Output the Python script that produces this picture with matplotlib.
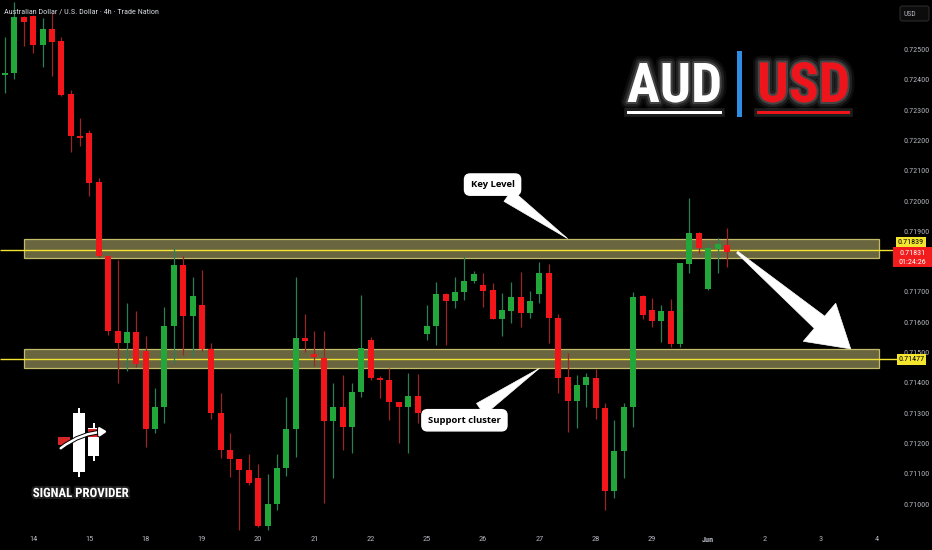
import matplotlib
matplotlib.use("Agg")
import matplotlib.pyplot as plt
import matplotlib.patheffects as pe
from matplotlib.patches import Rectangle, FancyBboxPatch, Polygon, FancyArrowPatch
from matplotlib.transforms import IdentityTransform
import numpy as np

# ---------------- data ----------------
opens = [0.72416, 0.72422, 0.72607, 0.72611, 0.72515, 0.72568, 0.72528, 0.72353, 0.72214, 0.72224,
         0.72063, 0.71818, 0.71571, 0.71531, 0.71568, 0.71505, 0.71248, 0.71320, 0.71587, 0.71789,
         0.71620, 0.71657, 0.71512, 0.71300, 0.71178, 0.71149, 0.71112, 0.71086, 0.70927, 0.71000,
         0.71119, 0.71248, 0.71548, 0.71495, 0.71482, 0.71274, 0.71320, 0.71254, 0.71370, 0.71541,
         0.71416, 0.71409, 0.71337, 0.71320, 0.71356, 0.71561, 0.71587, 0.71693, 0.71670, 0.71700,
         0.71736, 0.71723, 0.71706, 0.71611, 0.71637, 0.71683, 0.71630, 0.71693, 0.71762, 0.71614,
         0.71419, 0.71340, 0.71393, 0.71416, 0.71317, 0.71043, 0.71175, 0.71320, 0.71686, 0.71640,
         0.71604, 0.71637, 0.71528, 0.71792, 0.71894, 0.71710, 0.71842, 0.71855]
highs = [0.72541, 0.72657, 0.72611, 0.72614, 0.72604, 0.72620, 0.72541, 0.72366, 0.72274, 0.72234,
         0.72076, 0.71818, 0.71805, 0.71663, 0.71637, 0.71554, 0.71383, 0.71650, 0.71845, 0.71818,
         0.71749, 0.71772, 0.71531, 0.71366, 0.71234, 0.71149, 0.71165, 0.71132, 0.71099, 0.71165,
         0.71353, 0.71749, 0.71627, 0.71571, 0.71571, 0.71399, 0.71426, 0.71399, 0.71690, 0.71551,
         0.71422, 0.71449, 0.71337, 0.71432, 0.71429, 0.71657, 0.71733, 0.71696, 0.71749, 0.71815,
         0.71769, 0.71762, 0.71729, 0.71696, 0.71733, 0.71766, 0.71703, 0.71799, 0.71792, 0.71627,
         0.71498, 0.71426, 0.71432, 0.71446, 0.71333, 0.71277, 0.71333, 0.71700, 0.71690, 0.71680,
         0.71657, 0.71677, 0.71795, 0.72010, 0.71898, 0.71861, 0.71878, 0.71911]
lows = [0.72356, 0.72403, 0.72512, 0.72488, 0.72442, 0.72413, 0.72346, 0.72162, 0.72181, 0.72016,
        0.71815, 0.71558, 0.71399, 0.71439, 0.71452, 0.71188, 0.71234, 0.71267, 0.71465, 0.71492,
        0.71485, 0.71505, 0.71281, 0.71152, 0.71089, 0.70914, 0.71063, 0.70925, 0.70914, 0.70980,
        0.71092, 0.71155, 0.71502, 0.71455, 0.71003, 0.71086, 0.71178, 0.71168, 0.71353, 0.71409,
        0.71350, 0.71277, 0.71201, 0.71168, 0.71267, 0.71541, 0.71525, 0.71525, 0.71647, 0.71673,
        0.71729, 0.71650, 0.71611, 0.71554, 0.71597, 0.71584, 0.71614, 0.71663, 0.71531, 0.71366,
        0.71238, 0.71251, 0.71320, 0.71281, 0.70980, 0.71020, 0.71086, 0.71254, 0.71611, 0.71584,
        0.71535, 0.71518, 0.71518, 0.71762, 0.71828, 0.71705, 0.71762, 0.71782]
closes = [0.72422, 0.72607, 0.72591, 0.72515, 0.72568, 0.72525, 0.72350, 0.72214, 0.72208, 0.72059,
          0.71818, 0.71571, 0.71531, 0.71568, 0.71462, 0.71248, 0.71320, 0.71587, 0.71789, 0.71621,
          0.71686, 0.71512, 0.71300, 0.71178, 0.71149, 0.71112, 0.71069, 0.70927, 0.71000, 0.71119,
          0.71248, 0.71548, 0.71538, 0.71485, 0.71274, 0.71320, 0.71254, 0.71370, 0.71515, 0.71416,
          0.71409, 0.71337, 0.71320, 0.71356, 0.71300, 0.71587, 0.71693, 0.71670, 0.71700, 0.71736,
          0.71759, 0.71703, 0.71611, 0.71640, 0.71683, 0.71630, 0.71670, 0.71762, 0.71614, 0.71416,
          0.71340, 0.71393, 0.71419, 0.71317, 0.71043, 0.71175, 0.71320, 0.71683, 0.71624, 0.71604,
          0.71637, 0.71528, 0.71795, 0.71894, 0.71845, 0.71845, 0.71858, 0.71831]

day_labels = ['14', '15', '18', '19', '20', '21', '22', '25', '26', '27', '28', '29', 'Jun', '2', '3', '4']
first_day_index = 3          # candle index where the first labelled day starts
candles_per_day = 6          # 4h candles

price_ticks = [0.71000, 0.71100, 0.71200, 0.71300, 0.71400, 0.71500, 0.71600, 0.71700,
               0.71800, 0.71900, 0.72000, 0.72100, 0.72200, 0.72300, 0.72400, 0.72500]
hidden_ticks = [0.71800]     # covered by the live price label in the reference

key_level = 0.71839
support_level = 0.71477
key_band = (0.71811, 0.71876)
support_band = (0.71448, 0.71512)
band_start, band_end = 2.0, 93.2
last_price = 0.71831
countdown = '01:24:26'
key_tip = (60.0, 0.71876)
support_tip = (57.0, 0.71448)
arrow_from = (78.1, 0.71831)
arrow_to = (90.2, 0.71512)

title = 'Australian Dollar / U.S. Dollar \u00b7 4h \u00b7 Trade Nation'

# ---------------- style ----------------
UP, DN = '#22a83a', '#f2161b'
WICK_UP, WICK_DN = '#2a7f57', '#9c2626'
AXIS_TXT = '#b2b5be'
NARROW = ['Roboto Condensed', 'Liberation Sans Narrow', 'Roboto', 'DejaVu Sans']
plt.rcParams['font.family'] = NARROW

W, H = 932, 550
fig = plt.figure(figsize=(W / 100, H / 100), dpi=100, facecolor='black')
AX_R, AX_B = 893, 18
ax = fig.add_axes([0, AX_B / H, AX_R / W, 1 - AX_B / H])
ax.set_facecolor('black')
for s in ax.spines.values():
    s.set_visible(False)

n = len(opens)
x = np.arange(n)
o = np.array(opens); c = np.array(closes); hi = np.array(highs); lo = np.array(lows)
up = c >= o

ax.set_xlim(-0.533, 94.71)
ax.set_ylim(0.709076, 0.726634)

# bands and level lines
for (b0, b1) in (key_band, support_band):
    ax.add_patch(Rectangle((band_start, b0), band_end - band_start, b1 - b0,
                           fc='#69653f', ec='#c2bb68', lw=0.9, zorder=2))
x_ext = ax.get_xlim()[1] + 0.45
for lvl in (key_level, support_level):
    ax.plot([ax.get_xlim()[0], x_ext], [lvl, lvl], color='#f2e233', lw=1.0,
            zorder=2.5, clip_on=False, solid_capstyle='butt')

# candles
ax.vlines(x, lo, hi, colors=np.where(up, WICK_UP, WICK_DN), lw=0.9, zorder=3)
body_lo = np.minimum(o, c)
body_h = np.maximum(np.abs(c - o), 0.00005)
ax.bar(x, body_h, bottom=body_lo, width=0.64, color=np.where(up, UP, DN),
       linewidth=0, zorder=4)

# axes ticks
ax.yaxis.tick_right()
ax.set_yticks(price_ticks)
ax.set_yticklabels(['' if p in hidden_ticks else f'{p:.5f}' for p in price_ticks])
ax.tick_params(axis='y', length=0, pad=7.3, labelsize=5.8, labelcolor=AXIS_TXT)
xt = [first_day_index + candles_per_day * k for k in range(len(day_labels))]
ax.set_xticks(xt)
ax.set_xticklabels(day_labels)
ax.tick_params(axis='x', length=0, pad=3.2, labelsize=6.0, labelcolor=AXIS_TXT)
for t in ax.get_xticklabels():
    if t.get_text() == 'Jun':
        t.set_fontweight('bold')

ID = IdentityTransform()
fig.canvas.draw()
R = fig.canvas.get_renderer()


def fit(t, width):
    bb = t.get_window_extent(renderer=R)
    t.set_fontsize(t.get_fontsize() * width / bb.width)


def py(price):
    return ax.transData.transform((0, price))[1]


# price labels on the right scale
y_last = py(last_price)
fig.add_artist(Rectangle((893, y_last - 15), 39, 20, fc='#f21c1c', ec='none', transform=ID, zorder=5))
fig.text(912.5, y_last - 0.5, f'{last_price:.5f}', color='white', fontsize=5.8, ha='center', va='center',
         transform=ID, zorder=6)
fig.text(912.5, y_last - 9.8, countdown, color='white', fontsize=5.8, ha='center', va='center',
         transform=ID, zorder=6)
fig.add_artist(Rectangle((895.5, y_last + 5), 30.5, 10.5, fc='#f4e52e', ec='none', transform=ID, zorder=5))
fig.text(910.8, y_last + 10.2, f'{key_level:.5f}', color='black', fontsize=5.8, ha='center', va='center',
         transform=ID, zorder=6)
y_sup = py(support_level)
fig.add_artist(Rectangle((896.5, y_sup - 5.2), 29.5, 10.4, fc='#f4e52e', ec='none', transform=ID, zorder=5))
fig.text(911.2, y_sup, f'{support_level:.5f}', color='black', fontsize=5.8, ha='center', va='center',
         transform=ID, zorder=6)

# USD currency button
fig.add_artist(FancyBboxPatch((900, H - 21), 29, 15, boxstyle='round,pad=0,rounding_size=2.5',
                              fc='#0c0c0c', ec='#2b2b2b', lw=0.8, transform=ID, zorder=5))
fig.text(909.5, H - 13.5, 'USD', color=AXIS_TXT, fontsize=5.5, ha='center', va='center', transform=ID, zorder=6)

# title
tt = fig.text(4.5, H - 12, title, color='#d6d8de', fontsize=6.5, ha='left', va='center', transform=ID)
fit(tt, 155)

# callouts
kw = dict(textcoords='offset pixels', ha='center', va='center', color='black',
          fontweight='bold', fontsize=6.8, family=['Open Sans', 'DejaVu Sans'],
          bbox=dict(boxstyle='round,pad=0.65,rounding_size=0.6', fc='white', ec='white'),
          arrowprops=dict(arrowstyle='wedge,tail_width=1.0,shrink_factor=0.5', fc='white',
                          ec='white', lw=0.5, mutation_scale=10, shrinkA=0, shrinkB=0),
          zorder=8)
a1 = ax.annotate('Key Level', xy=key_tip, xytext=(-75, 54), **kw)
a2 = ax.annotate('Support cluster', xy=support_tip, xytext=(-75, -52), **kw)

# big white arrow
p0 = ax.transData.transform(arrow_from)
p1 = ax.transData.transform(arrow_to)
d = p1 - p0
u = d / np.hypot(*d)
nrm = np.array([-u[1], u[0]])
base = p1 - u * 41
pts = [p0 + nrm * 1.0, base + nrm * 8, base + nrm * 25, p1,
       base - nrm * 25, base - nrm * 8, p0 - nrm * 1.0]
fig.add_artist(Polygon(pts, closed=True, fc='white', ec='white', lw=0.5, transform=ID, zorder=7))

# AUD | USD logo
glow = [pe.Stroke(linewidth=10, foreground='white', alpha=0.05),
        pe.Stroke(linewidth=6.5, foreground='white', alpha=0.09),
        pe.Stroke(linewidth=3, foreground='white', alpha=0.16), pe.Normal()]
t_aud = fig.text(627, H - 102, 'AUD', color='white', fontsize=48, fontweight='bold',
                 ha='left', va='baseline', transform=ID, path_effects=glow)
t_usd = fig.text(757, H - 102, 'USD', color='#ee141c', fontsize=48, fontweight='bold',
                 ha='left', va='baseline', transform=ID, path_effects=glow)
fit(t_aud, 95)
fit(t_usd, 93)
for (x0, w, col) in ((627, 95, 'white'), (757, 93, '#ee141c')):
    fig.add_artist(Rectangle((x0, H - 113.5), w, 3, fc=col, ec='none', transform=ID,
                             path_effects=[pe.withStroke(linewidth=4, foreground=(1, 1, 1, 0.12))]))
fig.add_artist(Rectangle((737, H - 116.5), 5, 66, fc='#2f8de4', ec='none', transform=ID))

# SIGNAL PROVIDER logo
fig.add_artist(Rectangle((78.4, H - 477), 1.4, 69, fc='white', ec='none', transform=ID))
fig.add_artist(Rectangle((72.7, H - 471.7), 12.3, 58.4, fc='white', ec='none', transform=ID))
fig.add_artist(Rectangle((93.3, H - 461), 1.4, 38, fc='white', ec='none', transform=ID))
fig.add_artist(Rectangle((88.3, H - 455.7), 11, 27.4, fc='white', ec='none', transform=ID))
fig.add_artist(Rectangle((58, H - 445), 12, 8, fc='#d62626', ec='none', transform=ID))
fig.add_artist(Rectangle((88.3, H - 437), 11.5, 8, fc='#d62626', ec='none', transform=ID))
fig.add_artist(FancyArrowPatch((58.5, H - 450), (110, H - 431.5), connectionstyle='arc3,rad=-0.18',
                               arrowstyle='-|>,head_length=4,head_width=2.5', color='white', lw=1.8,
                               transform=ID, path_effects=[pe.withStroke(linewidth=3.2, foreground='black')]))
t_sp = fig.text(80.5, H - 493.5, 'SIGNAL PROVIDER', color='white', fontsize=9, fontweight='bold',
                ha='center', va='center', transform=ID,
                path_effects=[pe.Stroke(linewidth=3, foreground='white', alpha=0.12), pe.Normal()])
fit(t_sp, 96)

fig.savefig('out.png', dpi=100, facecolor='black')
